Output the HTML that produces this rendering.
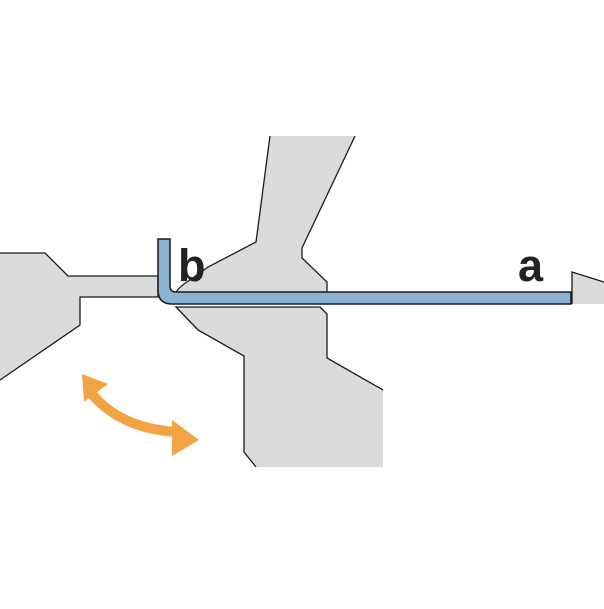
<!DOCTYPE html>
<html><head><style>body{margin:0;background:#fff}</style></head><body>
<svg width="604" height="604" viewBox="0 0 604 604" xmlns="http://www.w3.org/2000/svg">
<g fill="#dadbdb" stroke="none">
<path d="M0,253 L45,253 L68,276 L158,276 L158,297 L80,297 L80,325 L0,380 Z"/>
<path d="M270,136 L355,136 L302,248 L302,258 L327,282 L327,292 L176,292 Q180,286 190,280 L208,267 L256,242 Z"/>
<path d="M176,307 L320,307 L327,314 L327,358 L383,390 L383,467 L256,467 L244,452 L244,356 L198,330 Z"/>
<path d="M572,272 L604,282 L604,304 L572,304 Z"/>
</g>
<g fill="none" stroke="#1a1a1a" stroke-width="1.3">
<path d="M0,253 L45,253 L68,276 L158,276 L158,297 L80,297 L80,325 L0,380"/>
<path d="M270,136 L256,242 L208,267 L190,280 Q180,286 176,292 M355,136 L302,248 L302,258 L327,282 L327,292"/>
<path d="M383,390 L327,358 L327,314 L320,307 L176,307 L198,330 L244,356 L244,452 L256,467"/>
<path d="M604,282 L572,272 L572,304"/>
</g>
<path d="M158,239 L170,239 L170,286 Q170,292 176,292 L571,292 L571,304 L172,304 Q158,304 158,290 Z" fill="#8bb1d3" stroke="#1a1a1a" stroke-width="1.5"/>
<text x="178" y="281" font-family="Liberation Sans, sans-serif" font-weight="bold" font-size="45" fill="#222">b</text>
<text x="518" y="281" font-family="Liberation Sans, sans-serif" font-weight="bold" font-size="45" fill="#222">a</text>
<g fill="#f2a444">
<path d="M92,394 Q120,428 176,432" fill="none" stroke="#f2a444" stroke-width="10"/>
<polygon points="82,374 108,384 84,402"/>
<polygon points="172,420 199,440 172,456"/>
</g>
</svg>
</body></html>
